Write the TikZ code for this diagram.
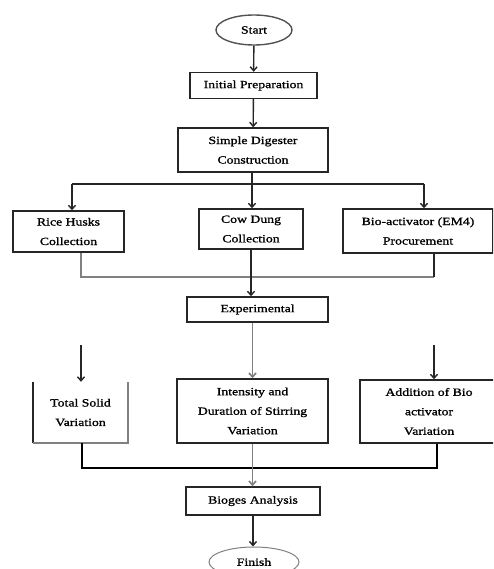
\documentclass[tikz,border=0pt]{standalone}
\usepackage{fontspec}
\setmainfont{Liberation Serif}[FakeStretch=1.25,FakeBold=1.2]
\usetikzlibrary{arrows.meta,shapes.geometric}
\definecolor{dk}{gray}{0.15}
\definecolor{gy}{gray}{0.5}
\begin{document}
\begin{tikzpicture}[x=1pt,y=-1pt,
  box/.style={draw=dk, line width=1.4pt, inner sep=0pt, align=center, font=\fontsize{11}{19.5}\selectfont},
  plain/.style={inner sep=0pt, align=center, font=\fontsize{11}{19.5}\selectfont},
  ln/.style={draw=dk, line width=1.4pt},
  gln/.style={draw=gy, line width=1.7pt},
  arr/.style={ln, -{Straight Barb[length=4pt,width=7pt]}},
  garr/.style={gln, -{Straight Barb[length=4pt,width=7pt]}}]
\useasboundingbox (0,0) rectangle (493,569);
\clip (0,0) rectangle (493,569);
% nodes
\node[box, ellipse, draw=dk!80, minimum width=76, minimum height=30] (start) at (254,30) {Start};
\node[box, minimum width=127, minimum height=26] (init) at (253.5,85.5) {Initial Preparation};
\node[box, minimum width=150, minimum height=44] (sdc) at (253,150) {Simple Digester\\Construction};
\node[box, minimum width=111, minimum height=41] (rice) at (68.5,231.5) {Rice Husks\\Collection};
\node[box, minimum width=104, minimum height=40] (cow) at (251,229) {Cow Dung\\Collection};
\node[box, minimum width=150, minimum height=44] (bio) at (418,231) {Bio-activator (EM4)\\Procurement};
\node[box, minimum width=141, minimum height=25] (exp) at (257.5,309.5) {Experimental};
\node[plain, minimum width=95, minimum height=61] (ts) at (80.5,412.5) {Total Solid\\Variation};
\draw[ln] (ts.north west) -- (ts.south west);
\draw[gln] (ts.south west) -- (ts.south east) -- (ts.north east);
\node[box, minimum width=151, minimum height=64] (int) at (252.5,411) {Intensity and\\Duration of Stirring\\Variation};
\node[box, minimum width=138, minimum height=63] (add) at (429,411.5) {Addition of Bio\\activator\\Variation};
\node[box, minimum width=134, minimum height=28] (bga) at (253,501) {Bioges Analysis};
\node[box, ellipse, draw=gy, line width=1pt, minimum width=90, minimum height=30] (fin) at (254,562) {Finish};
% coordinates
\coordinate (f0) at (252,184);
\coordinate (fL) at (72,184);
\coordinate (fR) at (424,184);
\coordinate (mL) at (81,277);
\coordinate (mR) at (434,277);
\coordinate (aL) at (81,345);
\coordinate (aR) at (434,345);
\coordinate (bL) at (82,468);
\coordinate (bR) at (437,468);
% connectors
\draw[arr] (start) -- (init);
\draw[arr] (init) -- (sdc);
\draw[ln] (sdc.south -| f0) -- (f0);
\draw[ln] (fL) -- (fR);
\draw[arr] (fL) -- (fL |- rice.north);
\draw[arr] (f0) -- (f0 |- cow.north);
\draw[arr] (fR) -- (fR |- bio.north);
\draw[gln] (mL |- rice.south) -- (mL) -- (mR);
\draw[ln] (mR |- bio.south) -- (mR);
\draw[arr] (cow.south) -- (cow.south |- exp.north);
\draw[garr] (int.north |- exp.south) -- (int.north);
\draw[arr] (aL) -- (aL |- ts.north);
\draw[arr] (aR) -- (aR |- add.north);
\draw[draw=black, line width=2pt] (bL |- ts.south) -- (bL) -- (bR) -- (bR |- add.south);
\draw[garr] (int.south) -- (int.south |- bga.north);
\draw[arr] (bga.south) -- (bga.south |- fin.north);
\end{tikzpicture}
\end{document}
